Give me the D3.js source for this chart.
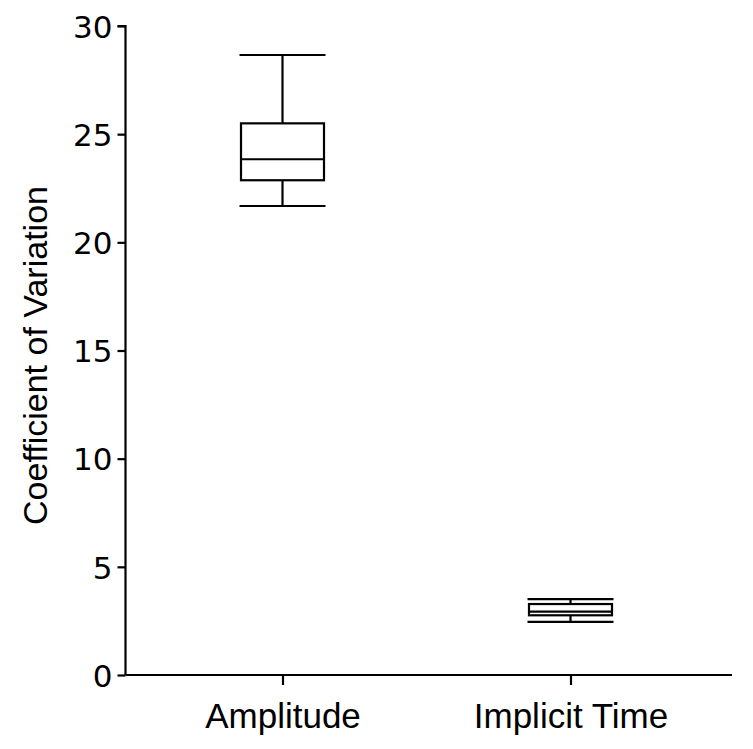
<!DOCTYPE html>
<html>
<head>
<meta charset="utf-8">
<script src="https://cdn.jsdelivr.net/npm/d3@7"></script>
<style>
  html, body { margin: 0; padding: 0; background: #fff; }
  svg { display: block; }
</style>
</head>
<body>
<svg id="chart" width="753" height="749"></svg>
<script>
// ---- data ----
const categories = ["Amplitude", "Implicit Time"];
const whiskerLow  = [21.68, 2.46];
const q1          = [22.87, 2.76];
const median      = [23.84, 2.93];
const q3          = [25.50, 3.28];
const whiskerHigh = [28.66, 3.51];
const yTicks = [0, 5, 10, 15, 20, 25, 30];
const yTitle = "Coefficient of Variation";

const svg = d3.select("#chart");
const x0 = 125.5, x1 = 732, yBottom = 675, yTop = 26;

const y = d3.scaleLinear().domain([0, 30]).range([yBottom, yTop]);
const x = d3.scalePoint().domain(categories).range([282.5, 570.5]).padding(0);

const stroke = "#000", sw = 2.2;
const boxW = 83, capW = 86;

// y axis
const yAxis = svg.append("g").attr("transform", `translate(${x0},0)`)
  .call(d3.axisLeft(y).tickValues(yTicks).tickSize(8).tickPadding(5));
yAxis.select(".domain").attr("d", `M-8,${y(30)}H0V${yBottom}`).attr("stroke-width", sw);
yAxis.selectAll(".tick line").attr("stroke-width", sw);
yAxis.selectAll(".tick text").attr("font-family", "DejaVu Sans, Verdana, sans-serif")
  .attr("font-size", 31).attr("fill", "#000").attr("dy", "0.36em");

// x axis
const xAxis = svg.append("g").attr("transform", `translate(0,${yBottom})`)
  .call(d3.axisBottom(x).tickSize(10).tickPadding(18));
xAxis.select(".domain").attr("d", `M${x0},0H${x1}`).attr("stroke-width", sw);
xAxis.selectAll(".tick line").attr("stroke-width", sw);
xAxis.selectAll(".tick text").attr("font-family", "Liberation Sans, Arial, sans-serif")
  .attr("font-size", 35).attr("fill", "#000").attr("dy", "0.71em");

// y title
svg.append("text")
  .attr("transform", `translate(47,${(184 + 527) / 2}) rotate(-90)`)
  .attr("text-anchor", "middle")
  .attr("font-family", "Liberation Sans, Arial, sans-serif")
  .attr("font-size", 34).attr("fill", "#000")
  .text(yTitle);

// boxes
const g = svg.append("g").attr("fill", "none").attr("stroke", stroke).attr("stroke-width", sw);
categories.forEach((c, i) => {
  const cx = x(c);
  g.append("line").attr("x1", cx).attr("x2", cx).attr("y1", y(whiskerHigh[i])).attr("y2", y(q3[i]));
  g.append("line").attr("x1", cx).attr("x2", cx).attr("y1", y(q1[i])).attr("y2", y(whiskerLow[i]));
  g.append("line").attr("x1", cx - capW / 2).attr("x2", cx + capW / 2).attr("y1", y(whiskerHigh[i])).attr("y2", y(whiskerHigh[i]));
  g.append("line").attr("x1", cx - capW / 2).attr("x2", cx + capW / 2).attr("y1", y(whiskerLow[i])).attr("y2", y(whiskerLow[i]));
  g.append("rect").attr("x", cx - boxW / 2).attr("width", boxW)
    .attr("y", y(q3[i])).attr("height", y(q1[i]) - y(q3[i]));
  g.append("line").attr("x1", cx - boxW / 2).attr("x2", cx + boxW / 2).attr("y1", y(median[i])).attr("y2", y(median[i]));
});
</script>
</body>
</html>
